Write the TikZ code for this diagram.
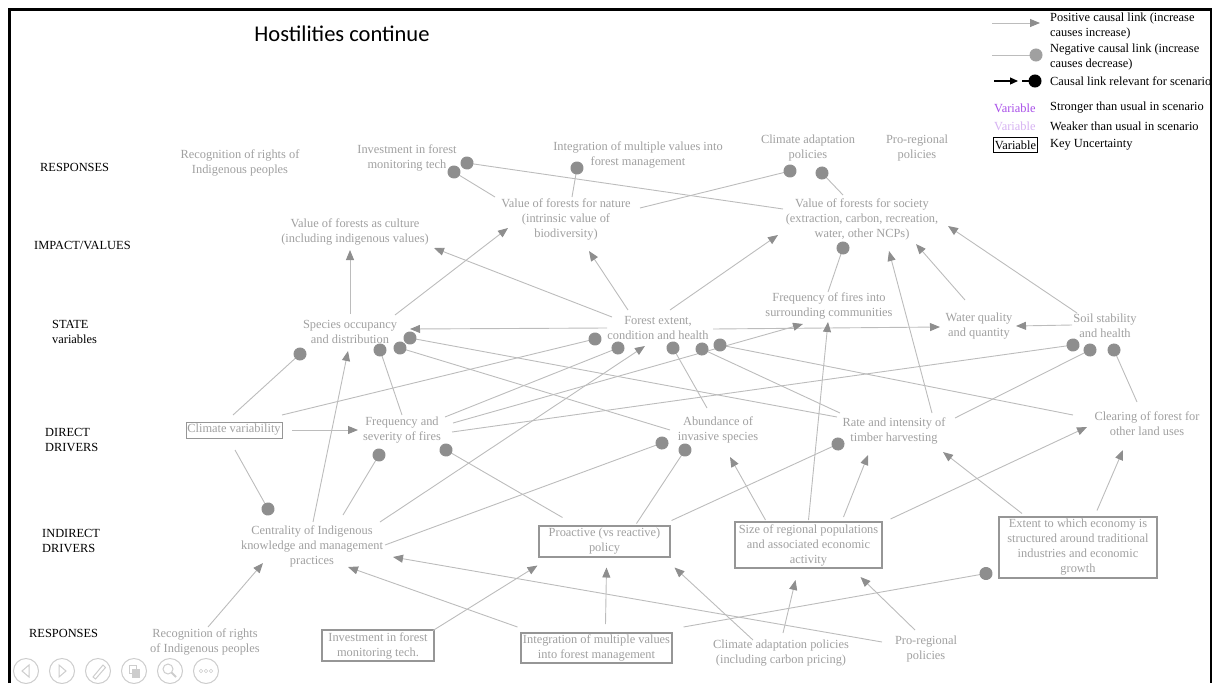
\documentclass[tikz,border=0pt]{standalone}
\usepackage{fontspec}
\setmainfont{Liberation Serif}
\newfontfamily\titlefont{Carlito}
\usetikzlibrary{arrows.meta,calc}
\definecolor{txtgray}{RGB}{160,160,160}
\definecolor{linegray}{RGB}{188,188,188}
\definecolor{tipgray}{RGB}{142,142,142}
\definecolor{boxgray}{RGB}{150,150,150}
\definecolor{navgray}{RGB}{205,205,205}
\definecolor{strongviolet}{RGB}{168,78,232}
\definecolor{weakviolet}{RGB}{214,178,242}
\newcommand{\diagfont}{\fontsize{12.4}{15}\selectfont}
\tikzset{
  varnode/.style={font=\diagfont, text=txtgray, align=center, inner sep=1pt},
  keynode/.style={varnode, draw=boxgray, line width=1.3pt},
  rowlabel/.style={font=\diagfont, align=left, anchor=west, inner sep=0pt},
  poslink/.style={draw=linegray, line width=0.9pt, -{Triangle[length=10pt,width=8pt,color=tipgray]}},
  neglink/.style={draw=linegray, line width=0.9pt, shorten >=-6.5pt, -{Circle[length=13pt,color=tipgray]}},
  navbtn/.style={draw=navgray, line width=1pt}
}

\begin{document}
\begin{tikzpicture}[x=1pt,y=-1pt]
  \useasboundingbox (0,0) rectangle (1216,683);
  % slide frame and title
  \draw[line width=2.5pt] (9.5,683) -- (9.5,9.5) -- (1211,9.5) -- (1211,683);
  \node[font=\titlefont\fontsize{22.5}{27}\selectfont] (title) at (342,34) {Hostilities continue};

  % row labels
  \node[rowlabel] (rowRespTop) at (40,167) {RESPONSES};
  \node[rowlabel] (rowImpact) at (34,245) {IMPACT/VALUES};
  \node[rowlabel] (rowState) at (52,332) {STATE\\variables};
  \node[rowlabel] (rowDirect) at (45,440) {DIRECT\\DRIVERS};
  \node[rowlabel] (rowIndirect) at (42,541) {INDIRECT\\DRIVERS};
  \node[rowlabel] (rowRespBot) at (29,633) {RESPONSES};

  % responses (top)
  \node[varnode] (rtRights) at (240,163) {Recognition of rights of\\Indigenous peoples};
  \node[varnode] (rtInvest) at (407,158) {Investment in forest\\monitoring tech};
  \node[varnode] (rtInteg) at (638,155) {Integration of multiple values into\\forest management};
  \node[varnode] (rtClimate) at (808,148) {Climate adaptation\\policies};
  \node[varnode] (rtRegional) at (917,148) {Pro-regional\\policies};

  % impact / values
  \node[varnode] (iCulture) at (355,232) {Value of forests as culture\\(including indigenous values)};
  \node[varnode] (iNature) at (566,219) {Value of forests for nature\\(intrinsic value of\\biodiversity)};
  \node[varnode] (iSociety) at (862,219) {Value of forests for society\\(extraction, carbon, recreation,\\water, other NCPs)};

  % state variables
  \node[varnode] (sSpecies) at (350,332) {Species occupancy\\and distribution};
  \node[varnode] (sForest) at (658,328) {Forest extent,\\condition and health};
  \node[varnode] (sFires) at (829,306) {Frequency of fires into\\surrounding communities};
  \node[varnode] (sWater) at (979,326) {Water quality\\and quantity};
  \node[varnode] (sSoil) at (1105,326) {Soil stability\\and health};

  % direct drivers
  \node[keynode, line width=0.9pt, minimum width=96pt, minimum height=16pt, inner sep=0pt] (dClimate) at (234,430) {Climate variability};
  \node[varnode] (dFires) at (402,430) {Frequency and\\severity of fires};
  \node[varnode] (dInvasive) at (718,430) {Abundance of\\invasive species};
  \node[varnode] (dTimber) at (894,431) {Rate and intensity of\\timber harvesting};
  \node[varnode] (dClearing) at (1147,424) {Clearing of forest for\\other land uses};

  % indirect drivers
  \node[varnode] (nCentral) at (312,546) {Centrality of Indigenous\\knowledge and management\\practices};
  \node[keynode, minimum width=131pt, minimum height=31pt] (nProactive) at (604.5,541.5) {Proactive (vs reactive)\\policy};
  \node[keynode, minimum width=147pt, minimum height=46pt] (nSize) at (808.5,545) {Size of regional populations\\and associated economic\\activity};
  \node[keynode, minimum width=158pt, minimum height=61pt] (nEconomy) at (1078,547.5) {Extent to which economy is\\structured around traditional\\industries and economic\\growth};

  % responses (bottom)
  \node[varnode] (bRights) at (205,642) {Recognition of rights\\of Indigenous peoples};
  \node[keynode, minimum width=112pt, minimum height=31pt] (bInvest) at (378,645.5) {Investment in forest\\monitoring tech.};
  \node[keynode, minimum width=151pt, minimum height=30pt] (bInteg) at (596.5,648) {Integration of multiple values\\into forest management};
  \node[varnode] (bClimate) at (781,653) {Climate adaptation policies\\(including carbon pricing)};
  \node[varnode] (bRegional) at (926,649) {Pro-regional\\policies};

  % links into the top responses
  \draw[neglink] ($(iNature)+(-71,-22)$) -- ($(rtInvest)+(47,14)$);
  \draw[neglink] ($(iSociety)+(-79,-10)$) -- ($(rtInvest)+(60,5)$);
  \draw[neglink] ($(iNature)+(6,-22)$) -- ($(rtInteg)+(-61,13)$);
  \draw[neglink] ($(iNature)+(74,-11)$) -- ($(rtClimate)+(-18,23)$);
  \draw[neglink] ($(iSociety)+(-19,-24)$) -- ($(rtClimate)+(14,25)$);

  % links into impact / values
  \draw[poslink] ($(sSpecies)+(0,-18)$) -- ($(iCulture)+(-5,18)$);
  \draw[poslink] ($(sSpecies)+(45,-17)$) -- ($(iNature)+(-58,9)$);
  \draw[poslink] ($(sForest)+(-46,-11)$) -- ($(iCulture)+(79,16)$);
  \draw[poslink] ($(sForest)+(-30,-18)$) -- ($(iNature)+(23,32)$);
  \draw[poslink] ($(sForest)+(12,-18)$) -- ($(iSociety)+(-84,16)$);
  \draw[neglink] ($(sFires)+(-1,-14)$) -- ($(iSociety)+(-19,29)$);
  \draw[poslink] ($(dTimber)+(38,-18)$) -- ($(iSociety)+(27,32)$);
  \draw[poslink] ($(sWater)+(-14,-26)$) -- ($(iSociety)+(54,25)$);
  \draw[poslink] ($(sSoil)+(-28,-13)$) -- ($(iSociety)+(86,7)$);

  % links between and into state variables
  \draw[poslink] ($(sForest)+(-51,0)$) -- ($(sSpecies)+(60,-3)$);
  \draw[poslink] ($(sForest)+(55,1)$) -- ($(sWater)+(-39,1)$);
  \draw[poslink] ($(sSoil)+(-33,-1)$) -- ($(sWater)+(37,0)$);
  \draw[poslink] ($(dFires)+(51,-7)$) -- ($(sFires)+(-26,18)$);
  \draw[neglink] ($(dClearing)+(-74,-9)$) -- ($(sForest)+(62,17)$);
  \draw[neglink] ($(dTimber)+(-54,-18)$) -- ($(sForest)+(44,21)$);
  \draw[neglink] ($(dFires)+(43,-13)$) -- ($(sForest)+(-40,20)$);
  \draw[neglink] ($(dClimate)+(48,-15)$) -- ($(sForest)+(-63,11)$);
  \draw[neglink] ($(dInvasive)+(-11,-22)$) -- ($(sForest)+(15,20)$);
  \draw[poslink] ($(nCentral)+(68,-24)$) -- ($(sForest)+(-13,18)$);
  \draw[neglink] ($(dTimber)+(-57,-14)$) -- ($(sSpecies)+(60,6)$);
  \draw[neglink] ($(dInvasive)+(-48,0)$) -- ($(sSpecies)+(50,16)$);
  \draw[neglink] ($(dFires)+(50,2)$) -- ($(sSoil)+(-32,19)$);
  \draw[neglink] ($(dTimber)+(61,-13)$) -- ($(sSoil)+(-15,24)$);
  \draw[neglink] ($(dClearing)+(-10,-22)$) -- ($(sSoil)+(9,24)$);
  \draw[neglink] ($(dClimate)+(-1,-15)$) -- ($(sSpecies)+(-50,22)$);
  \draw[neglink] ($(dFires)+(0,-15)$) -- ($(sSpecies)+(30,18)$);
  \draw[poslink] ($(nCentral)+(1,-24)$) -- ($(sSpecies)+(-2,19)$);

  % links into direct drivers
  \draw[poslink] ($(dClimate)+(58,0)$) -- ($(dFires)+(-44,0)$);
  \draw[neglink] ($(dClimate)+(1,20)$) -- ($(nCentral)+(-44,-37)$);
  \draw[neglink] ($(nCentral)+(31,-31)$) -- ($(dFires)+(-23,25)$);
  \draw[neglink] ($(nProactive)+(-42,-24)$) -- ($(dFires)+(44,20)$);
  \draw[neglink] ($(nCentral)+(73,-1)$) -- ($(dInvasive)+(-56,13)$);
  \draw[neglink] ($(nProactive)+(32,-18)$) -- ($(dInvasive)+(-33,20)$);
  \draw[neglink] ($(nProactive)+(67,-21)$) -- ($(dTimber)+(-56,13)$);
  \draw[poslink] ($(nSize)+(-43,-25)$) -- ($(dInvasive)+(12,27)$);
  \draw[poslink] ($(nSize)+(0,-25)$) -- ($(sFires)+(-1,16)$);
  \draw[poslink] ($(nSize)+(35,-28)$) -- ($(dTimber)+(-26,24)$);
  \draw[poslink] ($(nSize)+(82,-26)$) -- ($(dClearing)+(-60,3)$);
  \draw[poslink] ($(nEconomy)+(-56,-34)$) -- ($(dTimber)+(49,21)$);
  \draw[poslink] ($(nEconomy)+(19,-37)$) -- ($(dClearing)+(-24,26)$);

  % links from the bottom responses
  \draw[neglink] ($(bInteg)+(87,-21)$) -- ($(nEconomy)+(-92,26)$);
  \draw[poslink] ($(bRegional)+(-11,-19)$) -- ($(nSize)+(52,32)$);
  \draw[poslink] ($(bRegional)+(-44,-7)$) -- ($(nCentral)+(81,11)$);
  \draw[poslink] ($(bClimate)+(2,-20)$) -- ($(nSize)+(-13,35)$);
  \draw[poslink] ($(bClimate)+(-28,-13)$) -- ($(nProactive)+(70,26)$);
  \draw[poslink] ($(bInteg)+(9,-24)$) -- ($(nProactive)+(2,26)$);
  \draw[poslink] ($(bInteg)+(-79,-21)$) -- ($(nCentral)+(36,21)$);
  \draw[poslink] ($(bInvest)+(55,-15)$) -- ($(nProactive)+(-67,24)$);
  \draw[poslink] ($(bRights)+(3,-15)$) -- ($(nCentral)+(-49,17)$);

  % legend
  \coordinate (lgPosA) at (992,23);
  \coordinate (lgPosB) at (1040,23);
  \draw[poslink] (lgPosA) -- (lgPosB);
  \node[rowlabel] (lgPosTxt) at (1050,26) {Positive causal link (increase\\causes increase)};
  \coordinate (lgNegA) at (992,55);
  \coordinate (lgNegB) at (1036,55);
  \draw[neglink, -{Circle[length=13pt,color=txtgray]}] (lgNegA) -- (lgNegB);
  \node[rowlabel] (lgNegTxt) at (1050,57) {Negative causal link (increase\\causes decrease)};
  \coordinate (lgRelA) at (994,81);
  \coordinate (lgRelB) at (1018,81);
  \coordinate (lgRelC) at (1022,81);
  \coordinate (lgRelD) at (1035,81);
  \draw[line width=1.2pt, -{Triangle[length=8pt,width=7pt]}] (lgRelA) -- (lgRelB);
  \draw[line width=1.2pt, shorten >=-6.5pt, -{Circle[length=13pt]}] (lgRelC) -- (lgRelD);
  \node[rowlabel] (lgRelTxt) at (1050,81) {Causal link relevant for scenario};
  \node[rowlabel, text=strongviolet] (lgStrongVar) at (994,108) {Variable};
  \node[rowlabel] (lgStrongTxt) at (1050,108) {Stronger than usual in scenario};
  \node[rowlabel, text=weakviolet] (lgWeakVar) at (994,126) {Variable};
  \node[rowlabel] (lgWeakTxt) at (1050,126) {Weaker than usual in scenario};
  \node[rowlabel, draw, line width=1.2pt, inner xsep=1.2pt, inner ysep=3pt] (lgKeyVar) at (993,145) {Variable};
  \node[rowlabel] (lgKeyTxt) at (1050,145) {Key Uncertainty};

  % slide-show buttons
  \foreach \bx in {26,62,98,134,170,206}
    \draw[navbtn] (\bx,671) circle[radius=12.5];
  \draw[navbtn] (29,665) -- (22,671) -- (29,677) -- cycle;
  \draw[navbtn] (59,665) -- (66,671) -- (59,677) -- cycle;
  \draw[navbtn] (93,677) -- (103,665) -- (105.5,667.5) -- (95.5,679) -- cycle;
  \draw[navbtn] (129,665) rectangle (136,673);
  \draw[navbtn, fill=navgray] (132,669) rectangle (139,677);
  \draw[navbtn] (168,669) circle[radius=5];
  \draw[navbtn, line width=2pt] (171.5,672.5) -- (176,677);
  \foreach \dx in {-5,0,5}
    \draw[navbtn, line width=0.6pt] (206+\dx,671) circle[radius=1.8];
\end{tikzpicture}
\end{document}
